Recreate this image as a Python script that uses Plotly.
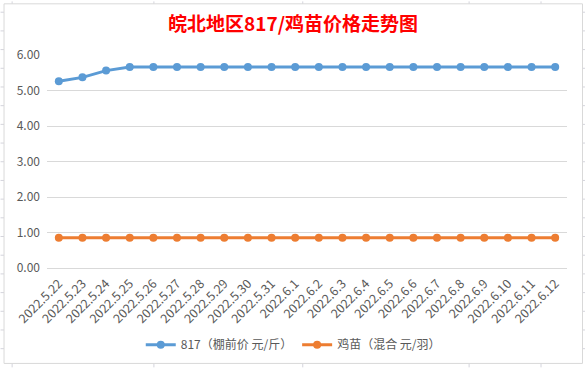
import plotly.graph_objects as go

categories = ["2022.5.22", "2022.5.23", "2022.5.24", "2022.5.25", "2022.5.26", "2022.5.27",
              "2022.5.28", "2022.5.29", "2022.5.30", "2022.5.31", "2022.6.1", "2022.6.2",
              "2022.6.3", "2022.6.4", "2022.6.5", "2022.6.6", "2022.6.7", "2022.6.8",
              "2022.6.9", "2022.6.10", "2022.6.11", "2022.6.12"]
price_817 = [5.26, 5.37, 5.56, 5.66, 5.66, 5.66, 5.66, 5.66, 5.66, 5.66, 5.66, 5.66,
             5.66, 5.66, 5.66, 5.66, 5.66, 5.66, 5.66, 5.66, 5.66, 5.66]
price_chick = [0.85] * 22
series_names = ["817（棚前价 元/斤）", "鸡苗（混合 元/羽）"]
y_ticks = [0, 1, 2, 3, 4, 5, 6]
title_text = "皖北地区817/鸡苗价格走势图"

W, H = 585, 372
L, R, T, B = 46.5, 567, 54.5, 271

def px_x(p):
    return (p - L) / (R - L)

def px_y(p):
    return (B - p) / (B - T)

font = "Noto Sans CJK SC, Microsoft YaHei, sans-serif"
fig = go.Figure()
fig.add_trace(go.Scatter(x=categories, y=price_817, name=series_names[0], mode="lines+markers",
                         line=dict(color="#5B9BD5", width=3), marker=dict(size=8, color="#5B9BD5")))
fig.add_trace(go.Scatter(x=categories, y=price_chick, name=series_names[1], mode="lines+markers",
                         line=dict(color="#ED7D31", width=3), marker=dict(size=8, color="#ED7D31")))

shapes = []
grid_col = "#D4D4DC"
# spreadsheet gridlines outside chart
for yy in range(11, 360, 19):
    shapes.append(dict(type="line", xref="paper", yref="paper", x0=px_x(0), x1=px_x(3.5),
                       y0=px_y(yy), y1=px_y(yy), line=dict(color=grid_col, width=1), layer="below"))
    shapes.append(dict(type="line", xref="paper", yref="paper", x0=px_x(582), x1=px_x(585),
                       y0=px_y(yy), y1=px_y(yy), line=dict(color=grid_col, width=1), layer="below"))
for xx in [11.6, 153.5, 302.5, 469, 541]:
    shapes.append(dict(type="line", xref="paper", yref="paper", x0=px_x(xx), x1=px_x(xx),
                       y0=px_y(0), y1=px_y(2.5), line=dict(color=grid_col, width=1), layer="below"))
    shapes.append(dict(type="line", xref="paper", yref="paper", x0=px_x(xx), x1=px_x(xx),
                       y0=px_y(368), y1=px_y(372), line=dict(color=grid_col, width=1), layer="below"))
shapes.append(dict(type="rect", xref="paper", yref="paper", x0=px_x(3.5), x1=px_x(582.5),
                   y0=px_y(368), y1=px_y(2.5), line=dict(color="#D9D9D9", width=1), layer="below"))

fig.update_layout(
    width=W, height=H,
    margin=dict(l=L, r=W - R, t=T, b=H - B, pad=0),
    paper_bgcolor="white", plot_bgcolor="white",
    font=dict(family=font, size=12, color="#595959"),
    title=dict(text="<b>" + title_text + "</b>", x=293 / W, xanchor="center", xref="container",
               y=1 - 24 / H, yanchor="middle",
               font=dict(family=font, size=19, color="#FF0000")),
    showlegend=True,
    legend=dict(orientation="h", x=px_x(293), xanchor="center", y=px_y(349), yanchor="middle",
                font=dict(family=font, size=12, color="#595959"), itemwidth=30,
                bgcolor="rgba(0,0,0,0)"),
    shapes=shapes,
)
fig.update_xaxes(type="category", range=[-0.5, len(categories) - 0.5], tickangle=-45,
                 showgrid=False, showline=False, zeroline=False, ticks="", automargin=False,
                 ticklabelstandoff=5,
                 tickfont=dict(family=font, size=12.5, color="#595959"))
fig.update_yaxes(range=[0, 6], tickvals=y_ticks, tickformat=".2f", showgrid=True,
                 gridcolor="#D9D9D9", gridwidth=1, zeroline=True, zerolinecolor="#D9D9D9",
                 zerolinewidth=1, showline=False, ticks="", ticklabelstandoff=6, automargin=False,
                 tickfont=dict(family=font, size=12, color="#595959"))

fig.write_html("out.html", config={"displayModeBar": False})

with open("out.html", "r", encoding="utf-8") as f:
    html = f.read()
html = html.replace("<head>", "<head><style>html,body{margin:0;padding:0;overflow:hidden;}</style>", 1)
with open("out.html", "w", encoding="utf-8") as f:
    f.write(html)
